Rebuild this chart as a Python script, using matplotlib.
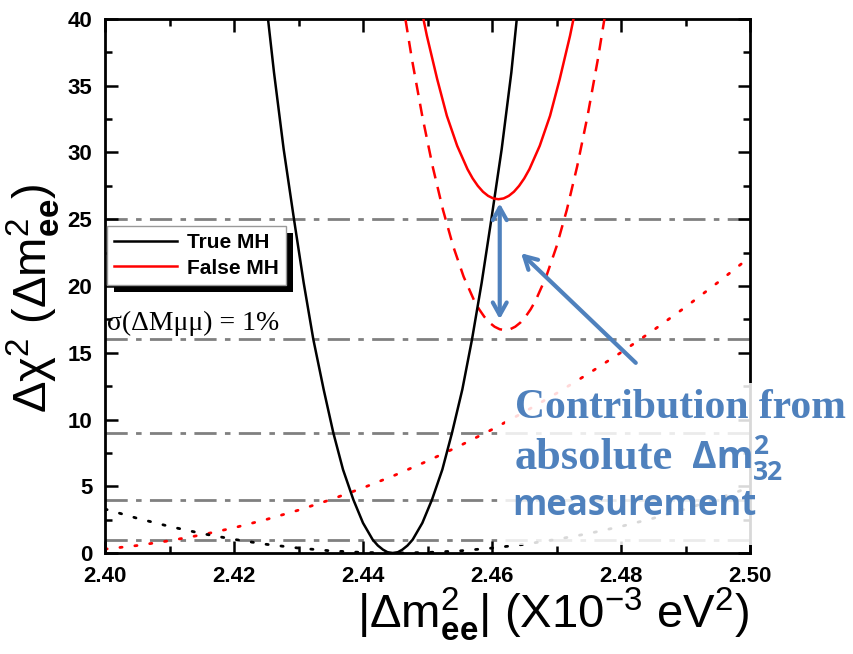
import numpy as np
import matplotlib
matplotlib.use('Agg')
import matplotlib.pyplot as plt
from matplotlib.patches import Rectangle
from matplotlib.transforms import IdentityTransform
from matplotlib.ticker import MultipleLocator

plt.rcParams['mathtext.fontset'] = 'custom'
plt.rcParams['mathtext.rm'] = 'Liberation Sans'
plt.rcParams['mathtext.bf'] = 'Liberation Sans:bold'
plt.rcParams['mathtext.it'] = 'Liberation Sans:italic'

# Datos
##########################
# True MH (linea negra continua)
true_x = [2.4240, 2.4262, 2.4277, 2.4293, 2.4308, 2.4323, 2.4339, 2.4354, 2.4369,
          2.4385, 2.4400, 2.4415, 2.4423, 2.4431, 2.4438, 2.4446, 2.4454, 2.4461,
          2.4469, 2.4477, 2.4492, 2.4507, 2.4523, 2.4538, 2.4554, 2.4569, 2.4584,
          2.4599, 2.4615, 2.4630, 2.4650]
true_y = [45.5, 36.0, 30.25, 25.0, 20.25, 16.0, 12.25, 9.0, 6.25,
          4.0, 2.25, 1.0, 0.56, 0.25, 0.06, 0.0, 0.06, 0.25,
          0.56, 1.0, 2.25, 4.0, 6.25, 9.0, 12.25, 16.0, 20.25,
          25.0, 30.25, 36.0, 45.5]

# False MH (linea roja continua)
false_x = [2.4483, 2.4499, 2.4515, 2.4530, 2.4546, 2.4562, 2.4570, 2.4578, 2.4586,
           2.4594, 2.4602, 2.4610, 2.4618, 2.4626, 2.4634, 2.4642, 2.4650, 2.4658,
           2.4674, 2.4690, 2.4705, 2.4721, 2.4737]
false_y = [42.5, 38.75, 35.5, 32.75, 30.5, 28.75, 28.06, 27.5, 27.06,
           26.75, 26.56, 26.5, 26.56, 26.75, 27.06, 27.5, 28.06, 28.75,
           30.5, 32.75, 35.5, 38.75, 42.5]

# False MH sin medida absoluta (roja discontinua)
fdash_x = [2.4460, 2.4476, 2.4492, 2.4508, 2.4524, 2.4540, 2.4556, 2.4572, 2.4580,
           2.4588, 2.4596, 2.4604, 2.4612, 2.4620, 2.4628, 2.4636, 2.4644, 2.4652,
           2.4660, 2.4668, 2.4684, 2.4700, 2.4716, 2.4732, 2.4748, 2.4764, 2.4780]
fdash_y = [41.7, 36.95, 32.7, 28.95, 25.7, 22.95, 20.7, 18.95, 18.26,
           17.7, 17.26, 16.95, 16.76, 16.7, 16.76, 16.95, 17.26, 17.7,
           18.26, 18.95, 20.7, 22.95, 25.7, 28.95, 32.7, 36.95, 41.7]

# Curvas punteadas (roja y negra)
dot_x = [2.400, 2.405, 2.410, 2.415, 2.420, 2.425, 2.430, 2.435, 2.440, 2.445, 2.450,
         2.455, 2.460, 2.465, 2.470, 2.475, 2.480, 2.485, 2.490, 2.495, 2.500]
rdot_y = [0.29, 0.56, 0.92, 1.36, 1.89, 2.51, 3.21, 4.00, 4.88, 5.84, 6.89,
          8.03, 9.25, 10.56, 11.96, 13.45, 15.02, 16.68, 18.42, 20.26, 22.17]
kdot_y = [3.29, 2.60, 1.99, 1.46, 1.02, 0.65, 0.37, 0.16, 0.04, 0.00, 0.04,
          0.16, 0.37, 0.65, 1.02, 1.46, 1.99, 2.60, 3.29, 4.07, 4.92]

# Niveles de referencia
levels = [1, 4, 9, 16, 25]

blue = '#4F81BD'

fig = plt.figure(figsize=(8.54, 6.54), dpi=100)
ax = fig.add_axes([105/854, 1-553/654, 645/854, 534/654])

for lv in levels:
    ax.axhline(lv, color='#808080', lw=2, ls=(0, (8, 3, 2, 3)), zorder=1)

ax.plot(dot_x, rdot_y, color='red', lw=2, ls=(0, (0.8, 4.6)), dash_capstyle='round', zorder=2)
ax.plot(dot_x, kdot_y, color='black', lw=2, ls=(0, (0.8, 4.6)), dash_capstyle='round', zorder=2)
ax.plot(fdash_x, fdash_y, color='red', lw=1.8, ls=(0, (5, 3.5)), zorder=3)
ax.plot(true_x, true_y, color='black', lw=1.8, label='True MH', zorder=4)
ax.plot(false_x, false_y, color='red', lw=1.8, label='False MH', zorder=4)

ax.set_xlim(2.40, 2.50)
ax.set_ylim(0, 40)
ax.xaxis.set_major_locator(MultipleLocator(0.02))
ax.xaxis.set_minor_locator(MultipleLocator(0.01))
ax.yaxis.set_major_locator(MultipleLocator(5))
ax.yaxis.set_minor_locator(MultipleLocator(2.5))
ax.xaxis.set_major_formatter(matplotlib.ticker.FormatStrFormatter('%.2f'))
ax.tick_params(which='both', direction='in', top=True, right=True, width=1.8)
ax.tick_params(which='major', length=9, labelsize=16, pad=9)
ax.tick_params(which='minor', length=5)
for lab in ax.get_xticklabels() + ax.get_yticklabels():
    lab.set_fontweight('bold')
    lab.set_family('Liberation Sans')
for sp in ax.spines.values():
    sp.set_linewidth(2)

ax.set_xlabel(r'|$\Delta$m$^{2}_{\mathbf{ee}}$| (X10$^{-3}$ eV$^2$)',
              fontsize=34, family='Liberation Sans')
ax.xaxis.set_label_coords((553 - 105) / 645, -0.06)
ax.set_ylabel(r'Δχ$^2$ (Δm$^{2}_{\mathbf{ee}}$)',
              fontsize=34, family='Liberation Sans')
ax.yaxis.set_label_coords(-0.066, (553 - 298) / 534)

leg = ax.legend(loc='upper left', bbox_to_anchor=(0.003, 0.612), borderaxespad=0,
                handlelength=3, handletextpad=0.5,
                prop={'family': 'Liberation Sans', 'weight': 'bold', 'size': 15},
                fancybox=False, edgecolor='#999999', framealpha=1,
                borderpad=0.35, labelspacing=0.3)
leg.set_zorder(6)

ax.text(2.4003, 17.2, 'σ(ΔMμμ) = 1%', family='Liberation Serif', fontsize=20,
        va='center', ha='left', zorder=5)

# Flechas azules
ax.annotate('', xy=(2.4612, 26.4), xytext=(2.4612, 17.3),
            arrowprops=dict(arrowstyle='<->,head_length=0.9,head_width=0.5',
                            color=blue, lw=3), zorder=6)
ax.annotate('', xy=(2.4642, 22.6), xytext=(2.4826, 14.1),
            arrowprops=dict(arrowstyle='->,head_length=0.9,head_width=0.5',
                            color=blue, lw=3), zorder=6)

# Sombra negra de la leyenda
fig.canvas.draw()
bb = leg.get_window_extent()
ax.add_artist(Rectangle((bb.x0 + 7, bb.y0 - 7), bb.width, bb.height,
                        transform=IdentityTransform(), facecolor='black',
                        edgecolor='none', zorder=5.5, clip_on=False))

# Caja blanca del texto
fig.patches.append(Rectangle((505/854, 1-545/654), 349/854, 162/654,
                             transform=fig.transFigure, facecolor='white',
                             alpha=0.85, edgecolor='none', zorder=5))

fig.text(515/854, 1-408/654, 'Contribution from', color=blue, fontsize=30,
         fontweight='bold', family='Liberation Serif', va='center', zorder=6)
fig.text(515/854, 1-458/654, 'absolute', color=blue, fontsize=32,
         fontweight='bold', family='Liberation Serif', va='center', zorder=6)
fig.text(692/854, 1-458/654, 'Δm', color=blue, fontsize=27,
         fontweight='bold', family='Open Sans', va='center', zorder=6)
fig.text(753/854, 1-446/654, '2', color=blue, fontsize=19,
         fontweight='bold', family='Open Sans', va='center', zorder=6)
fig.text(753/854, 1-472/654, '32', color=blue, fontsize=19,
         fontweight='bold', family='Open Sans', va='center', zorder=6)
fig.text(512/854, 1-506/654, 'measurement', color=blue, fontsize=25,
         fontweight='bold', family='Open Sans', va='center', zorder=6)

fig.savefig('out.png', dpi=100)
